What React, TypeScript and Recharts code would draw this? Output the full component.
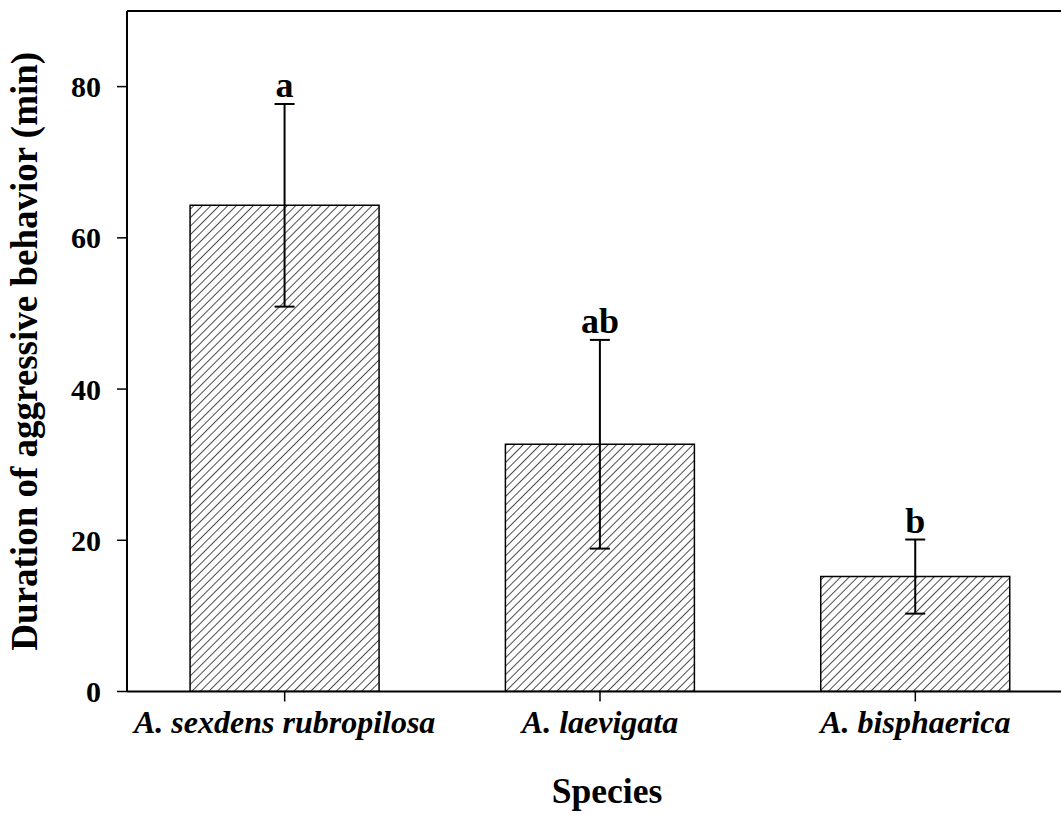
import React from 'react';
import { BarChart, Bar, XAxis, YAxis, ErrorBar, LabelList, ReferenceLine } from 'recharts';

const species = ['A. sexdens rubropilosa', 'A. laevigata', 'A. bisphaerica'];
const durations = [64.3, 32.7, 15.2];
const errors = [13.4, 13.8, 4.9];
const letters = ['a', 'ab', 'b'];
const yTicks = [0, 20, 40, 60, 80];

const data = species.map((s, i) => ({ species: s, duration: durations[i], err: errors[i] }));

const FONT = '"Liberation Serif", "Times New Roman", serif';

const LetterLabel = (props: any) => {
  const { x, y, width, height, value, index } = props;
  if (value == null || !height) return null;
  const perUnit = height / value;
  const top = y - errors[index] * perUnit;
  return (
    <text x={x + width / 2} y={top - 7} textAnchor="middle" fontFamily={FONT} fontWeight="bold" fontSize={36} fill="#000">
      {letters[index]}
    </text>
  );
};

const YLabel = (props: any) => {
  const vb = props.viewBox || {};
  const cx = vb.x + 37;
  const cy = vb.y + vb.height / 2;
  return (
    <text x={cx} y={cy} transform={`rotate(-90, ${cx}, ${cy})`} textAnchor="middle" fontFamily={FONT} fontWeight="bold" fontSize={37} fill="#000">
      Duration of aggressive behavior (min)
    </text>
  );
};

const XLabel = (props: any) => {
  const vb = props.viewBox || {};
  return (
    <text x={vb.x + vb.width / 2 + 7} y={vb.y + 111.5} textAnchor="middle" fontFamily={FONT} fontWeight="bold" fontSize={35.5} fill="#000">
      Species
    </text>
  );
};

export default function App() {
  return (
    <div style={{ position: 'absolute', left: 0, top: 0, width: 1061, height: 815, overflow: 'hidden', background: '#fff' }}>
      <BarChart width={1073} height={815} data={data} margin={{ top: 11, right: 0, left: 0, bottom: 0 }} barCategoryGap="20%">
        <defs>
          <pattern id="hatch" patternUnits="userSpaceOnUse" width={6} height={6} patternTransform="rotate(45)">
            <line x1={0} y1={0} x2={0} y2={6} stroke="#000" strokeWidth={1.4} />
          </pattern>
        </defs>
        <XAxis
          dataKey="species"
          height={123.5}
          axisLine={{ stroke: '#000', strokeWidth: 2 }}
          tickLine={{ stroke: '#000', strokeWidth: 1.5 }}
          tickSize={10}
          tickMargin={9}
          interval={0}
          tick={{ fill: '#000', fontFamily: FONT, fontWeight: 'bold', fontStyle: 'italic', fontSize: 32 }}
          label={<XLabel />}
        />
        <YAxis
          width={127}
          domain={[0, 90]}
          ticks={yTicks}
          allowDataOverflow
          axisLine={{ stroke: '#000', strokeWidth: 2 }}
          tickLine={{ stroke: '#000', strokeWidth: 1.5 }}
          tickSize={10}
          tickMargin={16}
          tick={{ fill: '#000', fontFamily: FONT, fontWeight: 'bold', fontSize: 30 }}
          label={<YLabel />}
        />
        <ReferenceLine y={90} stroke="#000" strokeWidth={2} />
        <Bar dataKey="duration" fill="url(#hatch)" stroke="#000" strokeWidth={1.5} isAnimationActive={false}>
          <ErrorBar dataKey="err" width={10} stroke="#000" strokeWidth={2} direction="y" />
          <LabelList dataKey="duration" content={<LetterLabel />} />
        </Bar>
      </BarChart>
    </div>
  );
}
